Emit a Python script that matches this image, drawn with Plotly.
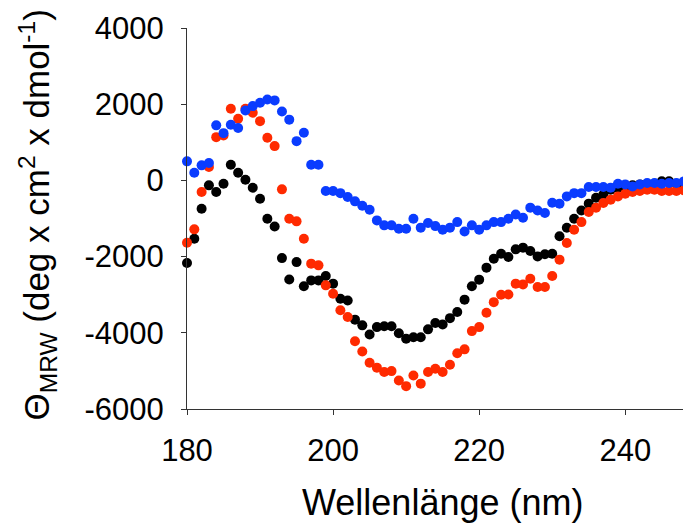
import plotly.graph_objects as go

wavelength = list(range(180, 250))

black_vals = [-2170, -1530, -745, -130, -305, -90, 410, 200, 15, -195,
              -480, -1005, -1210, -2040, -2600, -2145, -2780, -2625, -2625, -2510,
              -2710, -3105, -3150, -3655, -3805, -4045, -3850, -3830, -3830, -4010,
              -4155, -4115, -4115, -3910, -3745, -3780, -3615, -3455, -3130, -2780,
              -2605, -2290, -2055, -1925, -2010, -1810, -1765, -1855, -1995, -1940,
              -1925, -1465, -1245, -1005, -790, -610, -455, -370, -245, -195,
              -175, -130, -105, -105, -90, -25, -25, -90, -90, -90]

red_vals = [-1635, -1285, -305, 350, 1135, 1180, 1880, 1620, 1880, 1775,
            1555, 1120, 900, -235, -1005, -1075, -1530, -2185, -2230, -2755,
            -2975, -3410, -3585, -4220, -4490, -4785, -4915, -5030, -5005, -5250,
            -5400, -5120, -5335, -5030, -4945, -5030, -4840, -4535, -4435, -3955,
            -3850, -3475, -3195, -3000, -2995, -2710, -2730, -2580, -2800, -2800,
            -2510, -2080, -1645, -1295, -1095, -830, -720, -595, -505, -420,
            -350, -305, -280, -245, -245, -280, -280, -280, -260, -245]

blue_vals = [500, 200, 395, 455, 1445, 1240, 1460, 1375, 1835, 1950,
             2040, 2125, 2100, 1810, 1595, 1030, 1250, 410, 410, -280,
             -280, -335, -435, -550, -665, -770, -1050, -1180, -1180, -1270,
             -1270, -1005, -1240, -1120, -1200, -1295, -1240, -1095, -1340, -1180,
             -1295, -1180, -1095, -1095, -1005, -895, -980, -715, -790, -855,
             -585, -610, -420, -335, -335, -175, -175, -175, -190, -90,
             -105, -160, -105, -70, -70, -90, -70, -70, -25, -45]

x_ticks = [180, 200, 220, 240]
x_labels = ["180", "200", "220", "240"]
y_ticks = [-6000, -4000, -2000, 0, 2000, 4000]
y_labels = ["-6000", "-4000", "-2000", "0", "2000", "4000"]

FONT = "Liberation Sans, Arial, sans-serif"

fig = go.Figure()
for vals, color in [(black_vals, "#000000"), (red_vals, "#ff2a00"), (blue_vals, "#0a3cff")]:
    fig.add_trace(go.Scatter(
        x=wavelength, y=vals, mode="markers",
        marker=dict(size=10, color=color, line=dict(width=0)),
        cliponaxis=False, showlegend=False))

fig.update_layout(
    template="none",
    width=683, height=519,
    margin=dict(l=179, r=0, t=20, b=118, pad=0),
    paper_bgcolor="white", plot_bgcolor="white",
    font=dict(family=FONT, size=30, color="black"),
    xaxis=dict(range=[180, 249], tickvals=x_ticks, ticktext=x_labels,
               ticks="outside", ticklen=5, automargin=False,
               tickcolor="#333", showline=True, linecolor="#333", linewidth=1,
               showgrid=False, zeroline=False, ticklabelstandoff=9,
               tickfont=dict(size=31, family=FONT)),
    yaxis=dict(range=[-6000, 4000], tickvals=y_ticks, ticktext=y_labels,
               ticks="outside", ticklen=5, automargin=False,
               tickcolor="#333", showline=True, linecolor="#333", linewidth=1,
               showgrid=False, zeroline=False, ticklabelstandoff=11,
               tickfont=dict(size=31, family=FONT)),
    annotations=[
        dict(text="Wellenlänge (nm)", xref="paper", yref="paper",
             x=0.507, y=0, xanchor="center", yanchor="middle", yshift=-93,
             showarrow=False, font=dict(size=36, family=FONT)),
        dict(text="Θ<sub>MRW</sub> (deg x cm<sup>2</sup> x dmol<sup>-1</sup>)",
             xref="paper", yref="paper", x=0, y=0.5, xanchor="center", yanchor="middle",
             xshift=-150, yshift=3, textangle=-90, showarrow=False,
             font=dict(size=35, family=FONT)),
    ],
)

fig.write_html("out.html")
